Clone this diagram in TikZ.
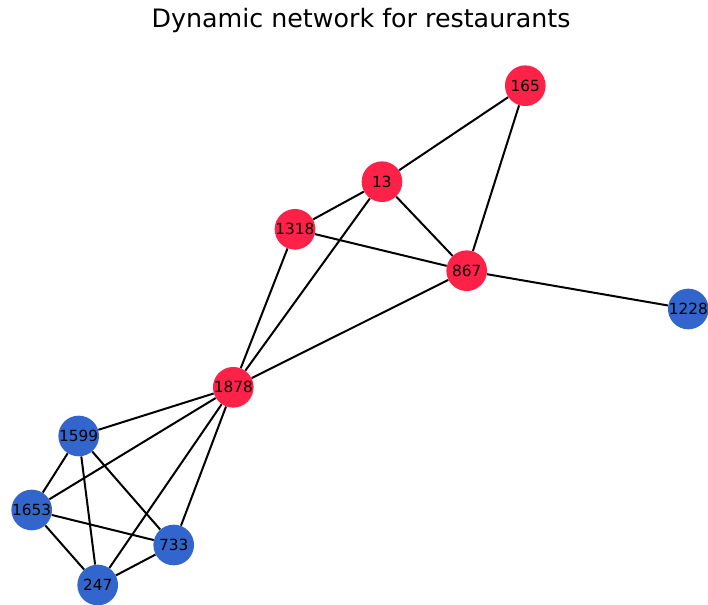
\documentclass[tikz,border=0pt]{standalone}
\usepackage{fontspec}
\setmainfont{DejaVu Sans}
\definecolor{hotred}{HTML}{FF2248}
\definecolor{midblue}{HTML}{3366CC}
\begin{document}
\begin{tikzpicture}[x=0.75pt,y=-0.75pt,
  vert/.style={circle,minimum size=30.5pt,inner sep=0pt,font=\fontsize{11.5}{12}\selectfont},
  redv/.style={vert,fill=hotred},
  bluev/.style={vert,fill=midblue},
  link/.style={line width=1.5pt,black}]
\useasboundingbox (0,0) rectangle (708,605);
\node[font=\fontsize{19}{22}\selectfont] (title) at (361,21) {Dynamic network for restaurants};
% restaurant nodes
\node[redv]  (n165)  at (525.3,85.7)  {165};
\node[redv]  (n13)   at (382,181.7)   {13};
\node[redv]  (n1318) at (295,229.3)   {1318};
\node[redv]  (n867)  at (466.7,270.7) {867};
\node[redv]  (n1878) at (233.3,387.3) {1878};
\node[bluev] (n1228) at (688.3,309)   {1228};
\node[bluev] (n1599) at (78.7,436)    {1599};
\node[bluev] (n1653) at (31.7,510)    {1653};
\node[bluev] (n733)  at (173.7,545)   {733};
\node[bluev] (n247)  at (97.7,585)    {247};
% links
\draw[link] (n165) -- (n13);
\draw[link] (n165) -- (n867);
\draw[link] (n13) -- (n1318);
\draw[link] (n13) -- (n867);
\draw[link] (n13) -- (n1878);
\draw[link] (n1318) -- (n867);
\draw[link] (n1318) -- (n1878);
\draw[link] (n867) -- (n1228);
\draw[link] (n867) -- (n1878);
\draw[link] (n1878) -- (n1599);
\draw[link] (n1878) -- (n1653);
\draw[link] (n1878) -- (n247);
\draw[link] (n1878) -- (n733);
\draw[link] (n1599) -- (n1653);
\draw[link] (n1599) -- (n247);
\draw[link] (n1599) -- (n733);
\draw[link] (n1653) -- (n733);
\draw[link] (n1653) -- (n247);
\draw[link] (n247) -- (n733);
\end{tikzpicture}
\end{document}
